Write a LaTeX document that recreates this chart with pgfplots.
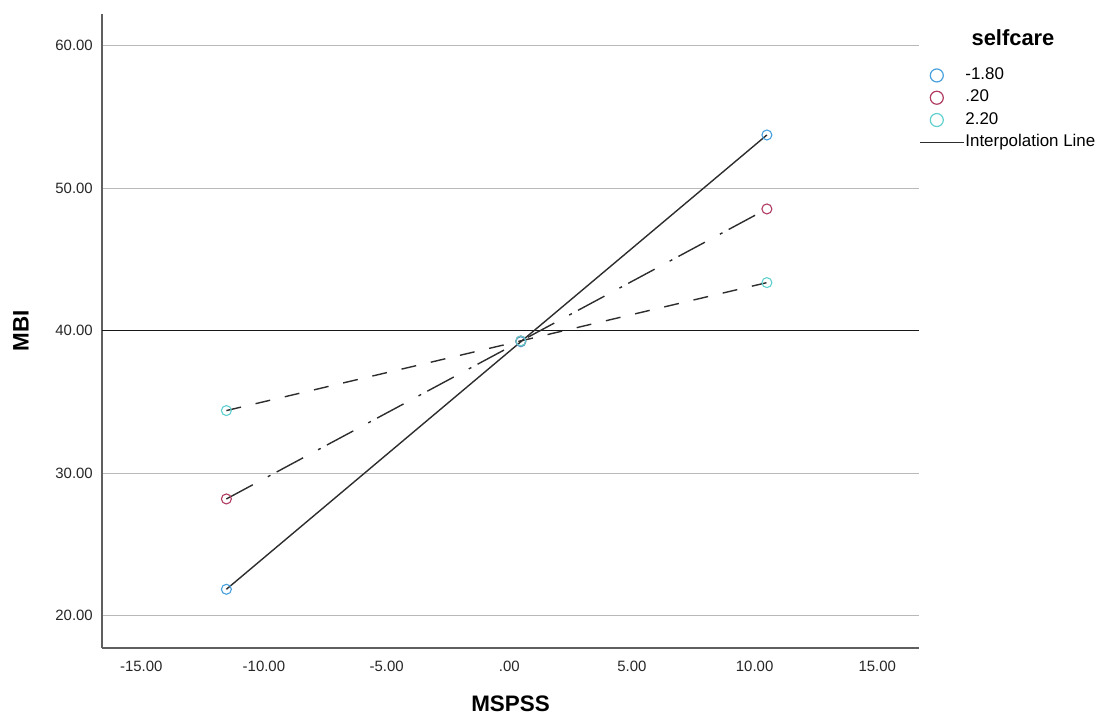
\documentclass[border=0pt]{standalone}
\usepackage{pgfplots}
\pgfplotsset{compat=1.18}
\usepackage{fontspec}
\setmainfont{Liberation Sans}
\definecolor{cA}{RGB}{70,160,222}
\definecolor{cB}{RGB}{176,60,96}
\definecolor{cC}{RGB}{96,208,206}
\definecolor{gridc}{RGB}{185,185,185}
\definecolor{axc}{RGB}{95,95,95}
\definecolor{linec}{RGB}{45,45,45}
\pgfplotsset{
  mylegmark/.style={legend image code/.code={\path (0bp,0bp) (44bp,0bp); \draw[##1] plot coordinates {(17bp,0bp)};}},
  myleglinE/.style={legend image code/.code={\draw[##1] (0bp,0bp) -- (44bp,0bp);}},
}
\begin{document}
\begin{tikzpicture}
\useasboundingbox (-102bp,-69bp) rectangle (1005bp,648bp);
\begin{axis}[
  scale only axis,
  width=817bp, height=634bp,
  xmin=-16.6, xmax=16.7,
  ymin=17.73, ymax=62.22,
  axis x line*=bottom, axis y line*=left,
  axis line style={-, draw=axc, line width=1.2bp},
  major tick length=0pt,
  xtick={-15,-10,-5,0,5,10,15},
  xticklabels={-15.00,-10.00,-5.00,.00,5.00,10.00,15.00},
  ytick={20,30,40,50,60},
  yticklabels={20.00,30.00,40.00,50.00,60.00},
  ymajorgrids,
  grid style={draw=gridc, line width=1bp},
  tick label style={font=\fontsize{15}{17}\selectfont, text=black!85, inner sep=0pt},
  /pgf/number format/assume math mode=true,
  xticklabel shift=13bp,
  yticklabel shift=9bp,
  every axis y label/.style={at={(axis description cs:-0.0991,0.5)}, anchor=center, rotate=90, font=\bfseries\fontsize{22.5}{25}\selectfont},
  every axis x label/.style={at={(axis description cs:0.5,-0.0885)}, anchor=center, font=\bfseries\fontsize{22.5}{25}\selectfont},
  xlabel={MSPSS}, ylabel={MBI},
  legend style={at={(1,1)}, anchor=north west, yshift=-52bp, draw=none, fill=none, inner sep=0pt, row sep=3.8bp,
    font=\fontsize{17}{19}\selectfont,
    nodes={inner sep=1bp, text height=12.5bp, text depth=4bp}},
  legend cell align=left,
  clip=false,
]
% legend images
\addlegendimage{only marks, mark=o, mark size=6.5bp, draw=cA, line width=1.2bp, mylegmark}
\addlegendentry{-1.80}
\addlegendimage{only marks, mark=o, mark size=6.5bp, draw=cB, line width=1.2bp, mylegmark}
\addlegendentry{.20}
\addlegendimage{only marks, mark=o, mark size=6.5bp, draw=cC, line width=1.2bp, mylegmark}
\addlegendentry{2.20}
\addlegendimage{draw=linec, line width=1.2bp, myleglinE}
\addlegendentry{Interpolation Line}

% reference line at 40
\addplot[forget plot, draw=black!90, line width=1.3bp] coordinates {(-16.6,40) (16.7,40)};

% interpolation lines
\addplot[forget plot, draw=linec, line width=1.4bp] coordinates {(-11.53,21.85) (0.47,39.22) (10.50,53.73)};
\addplot[forget plot, draw=linec, line width=1.4bp, dash pattern=on 30bp off 17bp on 3bp off 7bp] coordinates {(-11.53,28.19) (0.47,39.27) (10.50,48.54)};
\addplot[forget plot, draw=linec, line width=1.4bp, dash pattern=on 15bp off 15bp] coordinates {(-11.53,34.39) (0.47,39.28) (10.50,43.37)};

% markers
\addplot[forget plot, only marks, mark=o, mark size=5bp, draw=cA, line width=1.1bp] coordinates {(-11.53,21.85) (0.47,39.22) (10.50,53.73)};
\addplot[forget plot, only marks, mark=o, mark size=5bp, draw=cB, line width=1.1bp] coordinates {(-11.53,28.19) (0.47,39.27) (10.50,48.54)};
\addplot[forget plot, only marks, mark=o, mark size=5bp, draw=cC, line width=1.1bp] coordinates {(-11.53,34.39) (0.47,39.28) (10.50,43.37)};
\end{axis}
\node[font=\bfseries\fontsize{22}{24}\selectfont, anchor=center] at (911bp,610bp) {selfcare};
\end{tikzpicture}
\end{document}
